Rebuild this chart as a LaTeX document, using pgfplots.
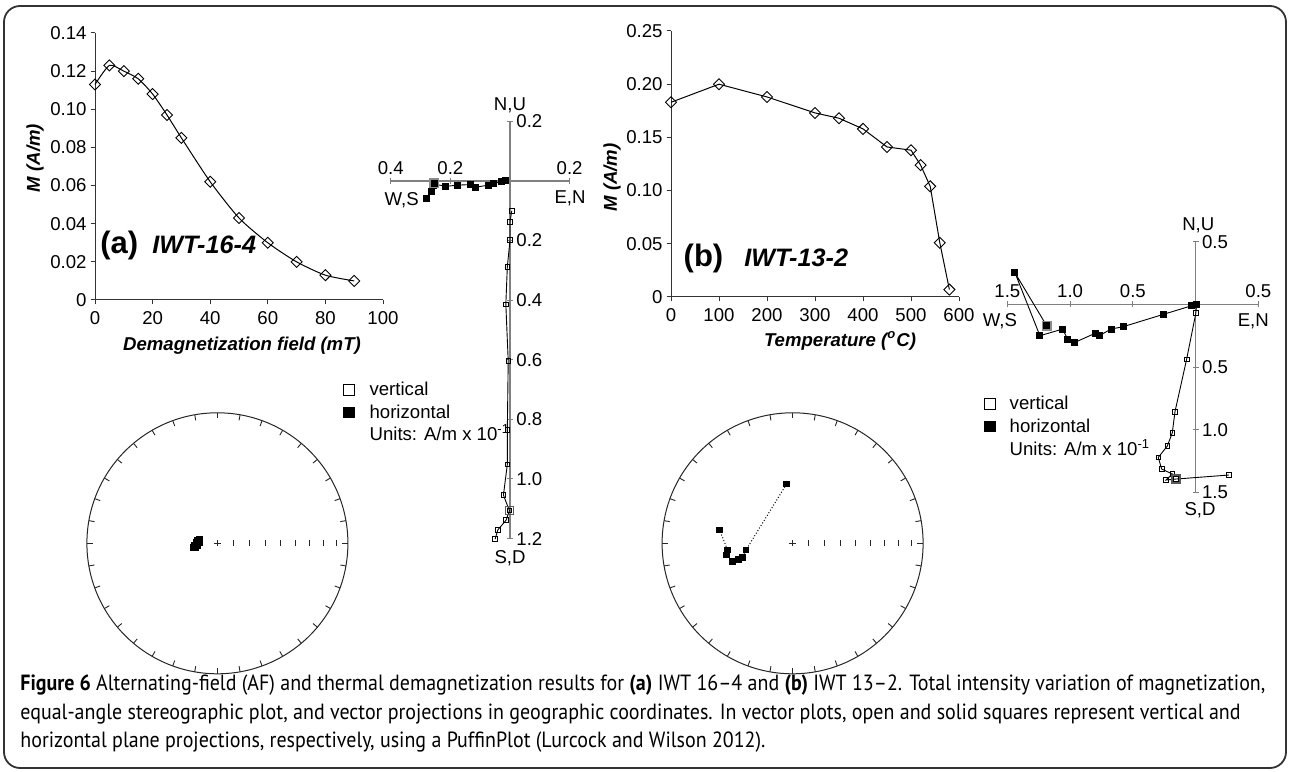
\documentclass[border=0pt]{standalone}
\usepackage{pgfplots}
\pgfplotsset{compat=1.18}
\usepackage{graphicx}
\usepackage{fontspec}
\setmainfont{Liberation Sans}
\newfontfamily\capfont{PT Sans}
\newlength\capw
\newcommand\capsize{\capfont\fontsize{11}{13}\selectfont}
\newcommand\smallf{\fontsize{9.3}{11}\selectfont}
\begin{document}
\settowidth\capw{\capsize\textbf{Figure 6} Alternating-field (AF) and thermal demagnetization results for \textbf{(a)} IWT 16\textendash4 and \textbf{(b)} IWT 13\textendash2. Total intensity variation of magnetization,}%
\pgfmathsetmacro\capsx{622.5pt/\capw}%
\begin{tikzpicture}[font=\smallf]
\useasboundingbox (0,0) rectangle (645pt,385.5pt);
\draw[black!80, line width=0.9pt, rounded corners=8pt] (2pt,1.5pt) rectangle (643pt,382.5pt);

\pgfplotsset{
  every axis/.append style={scale only axis, anchor=south west, clip=false,
    /pgf/number format/assume math mode=true,
    tick label style={font=\smallf}},
  intens/.style={axis x line*=bottom, axis y line*=left,
    axis line style={black!80, line width=0.5pt, -},
    tick style={black!80, line width=0.5pt}, tick align=outside, major tick length=2.2pt,
    yticklabel style={xshift=1.5pt}},
  zij/.style={axis lines=middle, axis line style={black!50, line width=0.6pt, -},
    tick style={black!50, line width=0.5pt}, tick align=center, major tick length=3pt,
    xticklabel style={anchor=south, yshift=1.2pt},
    yticklabel style={anchor=west, xshift=1.2pt}},
  hline/.style={black, line width=0.45pt, mark=square*, mark size=1.5pt, mark options={solid, fill=black}},
  vline/.style={black, line width=0.45pt, mark=square, mark size=1.15pt, mark options={solid, fill=white, line width=0.4pt}},
}

% ---------- (a) intensity ----------
\begin{axis}[intens, at={(47.5pt,235.5pt)}, width=144pt, height=133.5pt,
  xmin=0, xmax=100, ymin=0, ymax=0.14,
  xtick={0,20,40,60,80,100},
  ytick={0,0.02,0.04,0.06,0.08,0.10,0.12,0.14},
  yticklabels={0,0.02,0.04,0.06,0.08,0.10,0.12,0.14}]
\addplot[black, line width=0.5pt, smooth, tension=0.4, mark=square, mark size=1.95pt,
  mark options={rotate=45, fill=white, solid, line width=0.45pt}] coordinates {
(0,0.113) (5,0.123) (10,0.120) (15,0.116) (20,0.108) (25,0.097) (30,0.085)
(40,0.062) (50,0.043) (60,0.030) (70,0.020) (80,0.013) (90,0.010)};
\end{axis}

% ---------- (b) intensity ----------
\begin{axis}[intens, at={(335.5pt,237pt)}, width=144pt, height=133pt,
  xmin=0, xmax=600, ymin=0, ymax=0.25,
  xtick={0,100,200,300,400,500,600},
  ytick={0,0.05,0.10,0.15,0.20,0.25},
  yticklabels={0,0.05,0.10,0.15,0.20,0.25}]
\addplot[black, line width=0.5pt, mark=square, mark size=1.95pt,
  mark options={rotate=45, fill=white, solid, line width=0.45pt}] coordinates {
(0,0.183) (100,0.200) (200,0.188) (300,0.173) (350,0.168) (400,0.158)
(450,0.141) (500,0.138) (520,0.124) (540,0.104) (560,0.051) (580,0.007)};
\end{axis}

% ---------- (a) vector plot ----------
\begin{axis}[zij, at={(195.4pt,116.2pt)}, width=89.4pt, height=208.6pt,
  xmin=-0.4, xmax=0.2, ymin=-1.2, ymax=0.2,
  xtick={-0.4,-0.2,0.2}, xticklabels={0.4,0.2,0.2},
  ytick={0.2,-0.2,-0.4,-0.6,-0.8,-1.0,-1.2},
  yticklabels={0.2,0.2,0.4,0.6,0.8,1.0,1.2}]
\addplot[vline] coordinates {
(0.006,-0.100) (0.000,-0.137) (0.000,-0.198) (-0.009,-0.288) (-0.014,-0.414)
(-0.006,-0.604) (-0.009,-0.836) (-0.009,-0.951) (-0.022,-1.054) (-0.002,-1.106)
(-0.013,-1.138) (-0.041,-1.171) (-0.050,-1.202)};
\addplot[only marks, mark=square, mark size=2pt, mark options={draw=black!65, line width=0.8pt}] coordinates {(-0.002,-1.106)};
\addplot[hline] coordinates {
(-0.014,0.002) (-0.028,-0.003) (-0.054,-0.008) (-0.073,-0.014) (-0.117,-0.021)
(-0.134,-0.012) (-0.177,-0.014) (-0.216,-0.018) (-0.254,-0.010) (-0.257,-0.015)
(-0.265,-0.034) (-0.281,-0.057)};
\addplot[only marks, mark=square*, mark size=2.1pt, mark options={draw=black!45, fill=black, line width=0.7pt}] coordinates {(-0.254,-0.008)};
\end{axis}

% ---------- (b) vector plot ----------
\begin{axis}[zij, at={(503.7pt,139.2pt)}, width=125.5pt, height=125.5pt,
  xmin=-1.5, xmax=0.5, ymin=-1.5, ymax=0.5,
  xtick={-1.5,-1.0,-0.5,0.5}, xticklabels={1.5,1.0,0.5,0.5},
  ytick={0.5,-0.5,-1.0,-1.5}, yticklabels={0.5,0.5,1.0,1.5}]
\addplot[vline] coordinates {
(0.008,0.003) (0.002,-0.067) (-0.072,-0.438) (-0.165,-0.856) (-0.186,-1.023)
(-0.226,-1.129) (-0.298,-1.219) (-0.271,-1.312) (-0.186,-1.352) (-0.237,-1.400)
(-0.157,-1.392) (0.265,-1.360)};
\addplot[only marks, mark=square, mark size=2pt, mark options={draw=black!65, line width=0.8pt}] coordinates {(-0.157,-1.392)};
\addplot[hline] coordinates {
(0.008,0.000) (-0.032,-0.011) (-0.258,-0.080) (-0.577,-0.178) (-0.675,-0.197)
(-0.768,-0.250) (-0.802,-0.231) (-0.962,-0.303) (-1.020,-0.279) (-1.060,-0.197)
(-1.241,-0.250) (-1.440,0.252) (-1.187,-0.171)};
\addplot[only marks, mark=square*, mark size=2.1pt, mark options={draw=black!45, fill=black, line width=0.7pt}] coordinates {(-1.187,-0.171)};
\end{axis}

% ---------- stereonets ----------
\begin{axis}[at={(43.45pt,48.6pt)}, width=130.5pt, height=130.5pt,
  xmin=-1, xmax=1, ymin=-1, ymax=1, hide axis]
\addplot[only marks, mark=square*, mark size=1.4pt, black] coordinates {
(-0.185,-0.030) (-0.175,-0.012) (-0.165,0.005) (-0.152,0.020) (-0.140,0.030)
(-0.170,-0.035) (-0.155,-0.015) (-0.140,0.005)};
\end{axis}
\begin{axis}[at={(331.05pt,48.6pt)}, width=130.5pt, height=130.5pt,
  xmin=-1, xmax=1, ymin=-1, ymax=1, hide axis]
\addplot[black, densely dotted, line width=0.5pt, mark=square*, mark size=1.4pt, mark options={solid}] coordinates {
(-0.047,0.453) (-0.357,-0.051) (-0.382,-0.107) (-0.413,-0.122) (-0.460,-0.140)
(-0.507,-0.089) (-0.498,-0.051) (-0.560,0.102)};
\end{axis}

\foreach \cx in {108.7pt,396.3pt}{
  \draw[black!85, line width=0.5pt] (\cx,113.85pt) circle [radius=65.25pt];
  \foreach \a in {0,10,...,350}
    \draw[black!85, line width=0.45pt] ([shift={(\a:65.25pt)}]\cx,113.85pt) -- ([shift={(\a:62.4pt)}]\cx,113.85pt);
  \draw[black!85, line width=0.45pt] ([xshift=-1.6pt]\cx,113.85pt) -- ([xshift=1.6pt]\cx,113.85pt)
        ([yshift=-1.6pt]\cx,113.85pt) -- ([yshift=1.6pt]\cx,113.85pt);
  \foreach \r in {8.03,16.05,23.88,31.58,39.02,46.13,52.92,59.54}
    \draw[black!85, line width=0.45pt] ([xshift=\r pt, yshift=-1.5pt]\cx,113.85pt) -- ([xshift=\r pt, yshift=1.5pt]\cx,113.85pt);
}

% ---------- labels ----------
\node[rotate=90, font=\bfseries\itshape\smallf] at (17.5pt,306.5pt) {M (A/m)};
\node[font=\bfseries\itshape\smallf] at (121pt,212.65pt) {Demagnetization field (mT)};
\node[rotate=90, font=\bfseries\itshape\smallf] at (306pt,296.75pt) {M (A/m)};
\node[font=\bfseries\itshape\smallf] at (420pt,215.15pt) {Temperature (\textsuperscript{o}C)};

\node[anchor=base west, inner sep=0, font=\bfseries\fontsize{15.5}{18}\selectfont] at (50pt,258.5pt) {(a)};
\node[anchor=base west, inner sep=0, font=\bfseries\itshape\fontsize{12.6}{15}\selectfont] at (76pt,258.5pt) {IWT-16-4};
\node[anchor=base west, inner sep=0, font=\bfseries\fontsize{15.5}{18}\selectfont] at (341.65pt,252.25pt) {(b)};
\node[anchor=base west, inner sep=0, font=\bfseries\itshape\fontsize{12.6}{15}\selectfont] at (372pt,252.25pt) {IWT-13-2};

\node at (255pt,333pt) {N,U};
\node[inner sep=1pt] at (255pt,106.5pt) {S,D};
\node at (200.85pt,285.5pt) {W,S};
\node at (285pt,286.35pt) {E,N};
\node at (599.15pt,273pt) {N,U};
\node at (600pt,130.5pt) {S,D};
\node at (500pt,224.65pt) {W,S};
\node at (626.65pt,224.65pt) {E,N};

% legends
\node[draw=black, line width=0.6pt, fill=white, minimum size=5.6pt, inner sep=0] at (174.35pt,190.5pt) {};
\node[fill=black, minimum size=5.8pt, inner sep=0] at (174.35pt,179.15pt) {};
\node[anchor=base west, inner sep=0] at (184.6pt,187.5pt) {vertical};
\node[anchor=base west, inner sep=0] at (184.6pt,176.15pt) {horizontal};
\node[anchor=base west, inner sep=0] at (184.6pt,165pt) {Units: A/m x 10\textsuperscript{-1}};
\node[draw=black, line width=0.6pt, fill=white, minimum size=5.6pt, inner sep=0] at (495pt,183.5pt) {};
\node[fill=black, minimum size=5.8pt, inner sep=0] at (495pt,172.15pt) {};
\node[anchor=base west, inner sep=0] at (504.65pt,180.5pt) {vertical};
\node[anchor=base west, inner sep=0] at (504.65pt,169.15pt) {horizontal};
\node[anchor=base west, inner sep=0] at (504.65pt,157.5pt) {Units: A/m x 10\textsuperscript{-1}};

% caption
\node[anchor=base west, inner sep=0] at (10pt,40pt) {\scalebox{\capsx}[1]{\capsize\textbf{Figure 6} Alternating-field (AF) and thermal demagnetization results for \textbf{(a)} IWT 16\textendash4 and \textbf{(b)} IWT 13\textendash2. Total intensity variation of magnetization,}};
\node[anchor=base west, inner sep=0] at (10pt,26pt) {\scalebox{\capsx}[1]{\capsize equal-angle stereographic plot, and vector projections in geographic coordinates. In vector plots, open and solid squares represent vertical and}};
\node[anchor=base west, inner sep=0] at (10pt,12pt) {\scalebox{\capsx}[1]{\capsize horizontal plane projections, respectively, using a PuffinPlot (Lurcock and Wilson 2012).}};
\end{tikzpicture}
\end{document}
